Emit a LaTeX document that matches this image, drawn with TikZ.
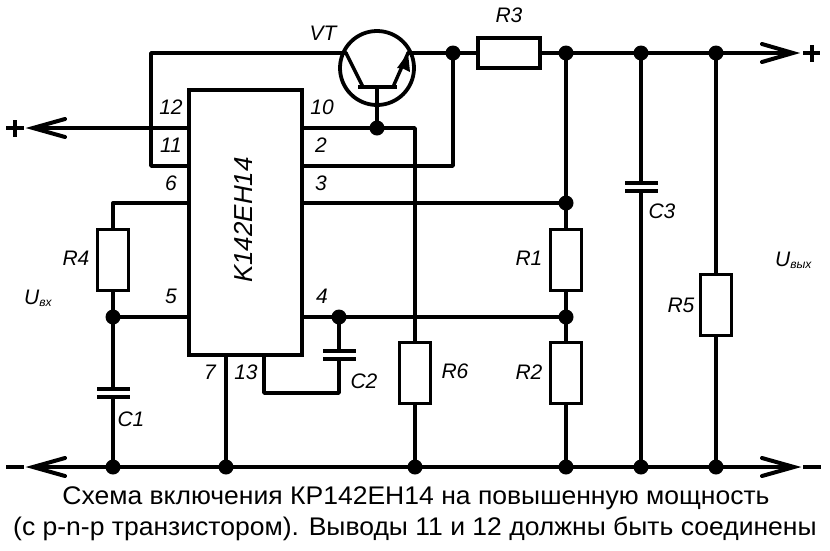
\documentclass[tikz,border=0pt]{standalone}
\usepackage{fontspec}
\setmainfont{Liberation Sans}
\newfontfamily\capfont[FakeStretch=1.04]{Liberation Sans}
\begin{document}
\begin{tikzpicture}[x=1pt,y=-1pt,
  wire/.style={line width=3.4pt,line cap=round,line join=round},
  body/.style={line width=3.8pt,draw,fill=white,line join=miter},
  resh/.style={body,minimum width=31pt,minimum height=61pt,inner sep=0pt,outer sep=0pt},
  resv/.style={body,minimum width=62pt,minimum height=30pt,inner sep=0pt,outer sep=0pt},
  dot/.style={circle,fill=black,minimum size=15pt,inner sep=0pt},
  lab/.style={font=\fontsize{21}{21}\selectfont\itshape,inner sep=0pt},
  pin/.style={font=\fontsize{21}{21}\selectfont\itshape,inner sep=0pt},
  plate/.style={line width=3.8pt},
  captext/.style={font=\capfont\fontsize{25.5}{26}\selectfont,inner sep=0pt},
  tipline/.style={line width=4pt,line cap=round,line join=miter}]
\useasboundingbox (0,0) rectangle (830,550);
\fill[white] (0,0) rectangle (830,550);
% coordinates
\coordinate (topL) at (151,53);
\coordinate (lowL) at (151,166);
\coordinate (p6) at (189,203);
\coordinate (p11) at (189,166);
\coordinate (p12) at (189,128);
\coordinate (p10) at (302,128);
\coordinate (p2) at (302,166);
\coordinate (p3) at (302,203);
\coordinate (p4) at (302,317);
\coordinate (p5) at (189,317);
\coordinate (p7) at (226,355);
\coordinate (p13) at (264,355);
\coordinate (cl) at (346,53);
\coordinate (el) at (408,53);
\coordinate (basebar) at (377,87);
\coordinate (r4t) at (113,203);
\coordinate (c13) at (264,393);
\coordinate (c2b) at (339,393);
\coordinate (c415) at (415,128);
\coordinate (c453) at (453,166);
\coordinate (inP) at (34,128);
\coordinate (outP) at (790,53);
\coordinate (gndL) at (34,467);
\coordinate (gndR) at (792,467);
% junction dots
\node[dot] (dVT) at (377,128) {};
\node[dot] (d453) at (453,53) {};
\node[dot] (d566t) at (566,53) {};
\node[dot] (d641t) at (641,53) {};
\node[dot] (d716t) at (716,53) {};
\node[dot] (d566m) at (566,203) {};
\node[dot] (d566l) at (566,317) {};
\node[dot] (d339) at (339,317) {};
\node[dot] (d113) at (113,317) {};
\node[dot] (g113) at (113,467) {};
\node[dot] (g226) at (226,467) {};
\node[dot] (g415) at (415,467) {};
\node[dot] (g566) at (566,467) {};
\node[dot] (g641) at (641,467) {};
\node[dot] (g716) at (716,467) {};
% wires
\draw[wire] (el) -- (d453.center) -- (d716t.center) -- (outP);
\draw[wire] (gndL) -- (gndR);
\draw[wire] (cl) -- (topL) -- (lowL) -- (p11);
\draw[wire] (inP) -- (p12);
\draw[wire] (p10) -- (c415) -- (g415.center);
\draw[wire] (dVT.center) -- (basebar);
\draw[wire] (p2) -- (c453) -- (d453.center);
\draw[wire] (p3) -- (d566m.center);
\draw[wire] (p4) -- (d566l.center);
\draw[wire] (p6) -- (r4t) -- (g113.center);
\draw[wire] (d113.center) -- (p5);
\draw[wire] (p7) -- (g226.center);
\draw[wire] (p13) -- (c13) -- (c2b) -- (d339.center);
\draw[wire] (d566t.center) -- (g566.center);
\draw[wire] (d641t.center) -- (g641.center);
\draw[wire] (d716t.center) -- (g716.center);
% arrow tips and terminals
\draw[tipline] (762,44) -- (793,53) -- (762,62);
\draw[tipline] (762,458) -- (794,467) -- (762,476);
\draw[tipline] (65,458) -- (33,467) -- (65,476);
\draw[tipline] (65,119) -- (33,128) -- (65,137);
\draw[line width=4pt] (6,467) -- (24,467);
\draw[line width=4pt] (803,467) -- (821,467);
\draw[line width=4pt] (803,53) -- (820,53) (811.5,45) -- (811.5,62);
\draw[line width=4pt] (6,128) -- (24,128) (15,120) -- (15,137);
% IC
\node[body,minimum width=113pt,minimum height=265pt,inner sep=0pt,outer sep=0pt] (ic) at (245.5,222.5) {};
\node[lab,rotate=90,font=\fontsize{26}{26}\selectfont\itshape] (iclab) at (243,220) {K142EH14};
% resistors
\node[resv] (R3) at (509,53) {};
\node[resh] (R4) at (113,260) {};
\node[resh] (R1) at (566,260) {};
\node[resh] (R2) at (566,373) {};
\node[resh] (R6) at (415,373) {};
\node[resh] (R5) at (716,305) {};
% capacitors
\fill[white] (90,391) rectangle (136,395);
\draw[plate] (97,389) -- (130,389) (97,397) -- (130,397);
\fill[white] (318,353) rectangle (360,357);
\draw[plate] (323,351) -- (356,351) (323,359) -- (356,359);
\fill[white] (620,185) rectangle (662,189);
\draw[plate] (625,183) -- (658,183) (625,191) -- (658,191);
% transistor
\draw[line width=3.8pt] (377,68) circle (37);
\draw[line width=4pt] (358,87) -- (397,87);
\draw[wire] (363,87) -- (cl);
\draw[wire] (393,87) -- (el);
\fill (408,53) -- (410,72) -- (402,68) -- (397,68) -- cycle;
% labels
\node[lab] (tVT) at (323,33) {VT};
\node[lab] (tR3) at (509,15) {R3};
\node[pin] (t12) at (171,107) {12};
\node[pin] (t11) at (171,145) {11};
\node[pin] (t6) at (171,183) {6};
\node[pin] (t10) at (322,107) {10};
\node[pin] (t2) at (321,145) {2};
\node[pin] (t3) at (321,183) {3};
\node[pin] (t5) at (171,296) {5};
\node[pin] (t4) at (322,296) {4};
\node[pin] (t7) at (210,372) {7};
\node[pin] (t13) at (246,372) {13};
\node[lab] (tR4) at (76,258) {R4};
\node[lab] (tC1) at (131,419) {C1};
\node[lab] (tC2) at (364,381) {C2};
\node[lab] (tR6) at (455,371) {R6};
\node[lab] (tR1) at (529,258) {R1};
\node[lab] (tR2) at (529,372) {R2};
\node[lab] (tC3) at (662,211) {C3};
\node[lab] (tR5) at (681,305) {R5};
\node[lab,anchor=west] (tUin) at (24,298) {U\raisebox{-2pt}{\fontsize{12}{12}\selectfont вх}};
\node[lab,anchor=west] (tUout) at (775,260) {U\raisebox{-2pt}{\fontsize{12}{12}\selectfont вых}};
\node[captext] (cap1) at (416,498) {Схема включения КР142ЕН14 на повышенную мощность};
\node[captext] (cap2) at (415,529) {(с p-n-p транзистором). Выводы 11 и 12 должны быть соединены};
\end{tikzpicture}
\end{document}
